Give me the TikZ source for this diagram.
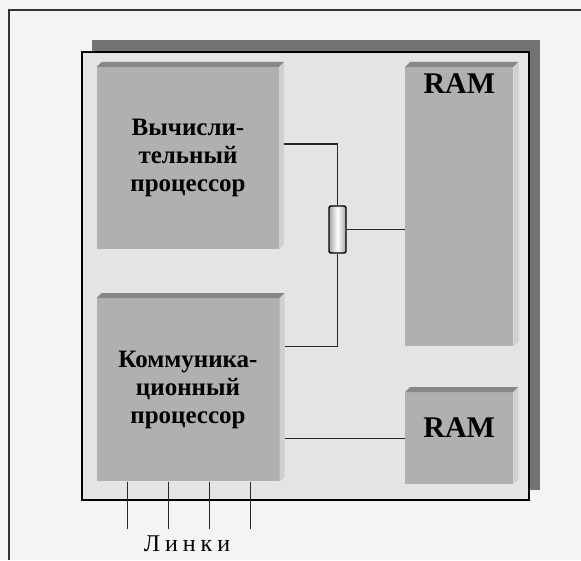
\documentclass[tikz,border=0pt]{standalone}
\usepackage{fontspec}
\setmainfont{Liberation Serif}
\usepackage{tikz}
\usetikzlibrary{positioning, calc}
\definecolor{paper}{RGB}{244, 244, 244}
\definecolor{boardgray}{RGB}{228, 228, 228}
\definecolor{shadowgray}{RGB}{115, 115, 115}
\definecolor{frontgray}{RGB}{176, 176, 176}
\definecolor{topgray}{RGB}{135, 135, 135}
\definecolor{sidegray}{RGB}{208, 208, 208}
\tikzset{
    block/.style = {rectangle, fill=frontgray, inner sep=0pt, align=center, font=\fontsize{25}{28}\selectfont\bfseries},
    ramtext/.style = {inner sep=0pt, font=\fontsize{30}{32}\selectfont\bfseries},
    topface/.style = {fill=topgray},
    sideface/.style = {fill=sidegray},
    wire/.style = {line width=1.1pt, black!85},
    switch/.style = {rectangle, draw=black, line width=1.4pt, rounded corners=2pt, minimum width=17pt, minimum height=47pt, inner sep=0pt, left color=gray!70, right color=gray!70, middle color=white}
}

\begin{document}
\begin{tikzpicture}[x=1pt, y=-1pt]
\useasboundingbox (0,0) rectangle (581,560);
\fill[paper] (0,0) rectangle (581,560);
\draw[line width=1.6pt, black!80] (9,560) -- (9,10) -- (581,10);

% Board
\fill[shadowgray] (92,40) rectangle (540,490);
\draw[line width=2pt, fill=boardgray] (82,52) rectangle (529,500);

% Nodes
\node (cpu) [block, minimum width=182pt, minimum height=182pt] at (188,158) {Вычисли-\\тельный\\процессор};
\node (comm) [block, below=49pt of cpu, minimum width=183pt, minimum height=183pt] {Коммуника-\\ционный\\процессор};
\node (ram) [block, anchor=north west, minimum width=108pt, minimum height=279pt] at ($(cpu.north east)+(126,0)$) {};
\node (ramb) [block, anchor=north west, minimum width=108pt, minimum height=92pt] at (405,392) {};
\node (ramlbl) [ramtext, anchor=north] at ($(ram.north)+(0,7)$) {RAM};
\node (ramblbl) [ramtext, anchor=center] at ($(ramb.center)+(0,-11)$) {RAM};
\node (sw) [switch] at (337.5,229.5) {};

% Bevels
\foreach \n in {cpu, comm, ram, ramb} {
    \fill[topface] (\n.north west) -- ++(5,-5) -- ($(\n.north east)+(5,-5)$) -- (\n.north east) -- cycle;
    \fill[sideface] (\n.north east) -- ++(5,-5) -- ($(\n.south east)+(5,-5)$) -- (\n.south east) -- cycle;
}

% Wires
\draw[wire] ($(cpu.east)+(5,-14)$) -| (sw.north);
\draw[wire] ($(comm.east)+(5,-43.5)$) -| (sw.south);
\draw[wire] (sw.east) -- (sw.east -| ram.west);
\draw[wire] (ramb.west) -- ($(ramb.west -| comm.east)+(5,0)$);
\foreach \x in {31,72,113,154}
    \draw[wire] ($(comm.south west)+(\x,0)$) -- ++(0,47);

\node (links) [font=\fontsize{24}{26}\selectfont] at (187,544) {Л\kern5pt и\kern5pt н\kern5pt к\kern5pt и};
\end{tikzpicture}
\end{document}
